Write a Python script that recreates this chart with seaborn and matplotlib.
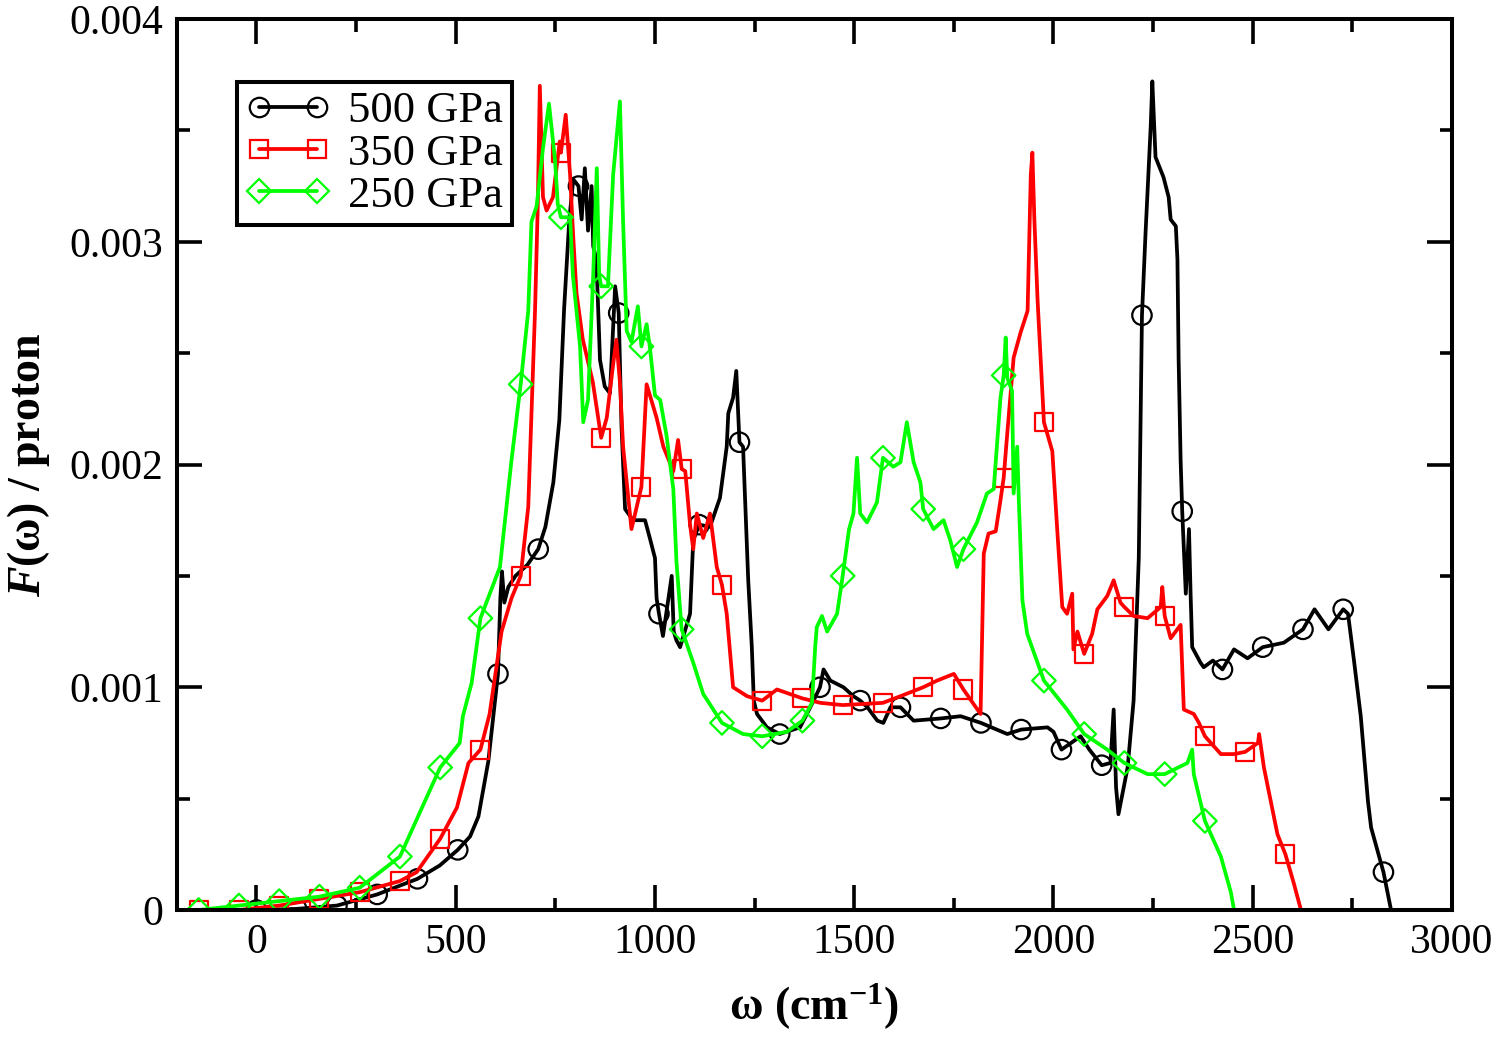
import numpy as np
import pandas as pd
import matplotlib
matplotlib.use("Agg")
import matplotlib.pyplot as plt
from matplotlib.lines import Line2D
from matplotlib.ticker import MultipleLocator, FuncFormatter
import seaborn as sns

# omega in cm^-1, F(omega) per proton in units of 1e-3

# 500 GPa
w500 = [0, 101, 202, 303, 404, 460, 505, 536, 557, 582, 606, 612, 616, 622, 632, 650, 680, 707,
        725, 745, 760, 772, 785, 795, 808, 816, 824, 832, 841, 845, 853, 862, 874, 887, 900, 909,
        916, 925, 945, 975, 987, 1000, 1004, 1010, 1020, 1042, 1047, 1054, 1063, 1088, 1096, 1111,
        1138, 1163, 1180, 1184, 1196, 1204, 1212, 1221, 1234, 1243, 1248, 1256, 1281, 1313, 1364,
        1398, 1414, 1423, 1440, 1473, 1498, 1515, 1533, 1558, 1573, 1591, 1616, 1649, 1717, 1767,
        1818, 1884, 1919, 1985, 2000, 2020, 2068, 2090, 2121, 2143, 2151, 2157, 2163, 2186, 2201,
        2214, 2222, 2231, 2244, 2248, 2256, 2276, 2289, 2294, 2307, 2311, 2314, 2319, 2323, 2332,
        2340, 2344, 2348, 2369, 2377, 2400, 2424, 2453, 2487, 2525, 2578, 2626, 2655, 2690, 2727,
        2739, 2754, 2771, 2789, 2797, 2828, 2847]
f500 = [0.0, 0.005, 0.02, 0.07, 0.14, 0.20, 0.27, 0.33, 0.42, 0.67, 1.06, 1.40, 1.52, 1.38, 1.45,
        1.50, 1.55, 1.62, 1.72, 1.92, 2.20, 2.70, 3.10, 3.28, 3.25, 3.10, 3.33, 3.05, 3.25, 2.98,
        2.92, 2.47, 2.35, 2.32, 2.80, 2.68, 2.17, 1.80, 1.75, 1.75, 1.67, 1.58, 1.40, 1.33, 1.23,
        1.50, 1.25, 1.21, 1.18, 1.33, 1.66, 1.73, 1.72, 1.85, 2.08, 2.23, 2.30, 2.42, 2.10, 2.08,
        1.48, 1.18, 0.94, 0.88, 0.82, 0.79, 0.82, 0.94, 1.00, 1.08, 1.03, 1.00, 0.96, 0.94, 0.91,
        0.85, 0.84, 0.91, 0.91, 0.85, 0.86, 0.87, 0.84, 0.79, 0.81, 0.82, 0.80, 0.72, 0.78, 0.72,
        0.65, 0.66, 0.90, 0.55, 0.43, 0.64, 0.94, 1.58, 2.67, 3.04, 3.52, 3.72, 3.38, 3.29, 3.20,
        3.10, 3.07, 2.92, 2.47, 2.02, 1.79, 1.42, 1.71, 1.42, 1.18, 1.11, 1.09, 1.12, 1.08, 1.17,
        1.13, 1.18, 1.20, 1.26, 1.35, 1.26, 1.35, 1.33, 1.12, 0.87, 0.49, 0.37, 0.17, 0.0]
m500 = [0, 101, 202, 303, 404, 505, 606, 707, 808, 909, 1010, 1111, 1212, 1313, 1414, 1515,
        1616, 1717, 1818, 1919, 2020, 2121, 2222, 2323, 2424, 2525, 2626, 2727, 2828]

# 350 GPa
w350 = [-145, -44, 57, 158, 259, 360, 402, 461, 503, 532, 562, 585, 615, 640, 663, 682, 699, 706,
        711, 719, 728, 744, 761, 764, 776, 787, 794, 803, 819, 844, 865, 879, 895, 903, 912, 920,
        941, 966, 979, 1004, 1021, 1046, 1058, 1067, 1076, 1088, 1096, 1105, 1121, 1138, 1155,
        1168, 1180, 1196, 1231, 1269, 1306, 1370, 1415, 1471, 1572, 1616, 1673, 1708, 1750, 1774,
        1817, 1825, 1837, 1855, 1867, 1875, 1884, 1900, 1917, 1935, 1943, 1947, 1952, 1960, 1976,
        1997, 2010, 2022, 2034, 2047, 2050, 2060, 2077, 2097, 2110, 2135, 2151, 2168, 2178, 2201,
        2236, 2269, 2273, 2279, 2294, 2319, 2327, 2352, 2365, 2380, 2420, 2453, 2481, 2513, 2516,
        2528, 2545, 2562, 2582, 2603, 2621]
f350 = [0.0, 0.0, 0.02, 0.05, 0.08, 0.13, 0.17, 0.32, 0.46, 0.66, 0.72, 0.88, 1.25, 1.40, 1.50,
        1.81, 2.69, 3.17, 3.70, 3.20, 3.14, 3.20, 3.45, 3.40, 3.57, 3.30, 3.05, 2.77, 2.56, 2.37,
        2.12, 2.21, 2.45, 2.56, 2.37, 2.08, 1.71, 1.90, 2.36, 2.21, 2.08, 1.97, 2.11, 1.98, 1.97,
        1.73, 1.62, 1.78, 1.67, 1.78, 1.54, 1.46, 1.33, 1.00, 0.96, 0.94, 0.99, 0.95, 0.93, 0.92,
        0.93, 0.96, 1.00, 1.03, 1.06, 0.99, 0.88, 1.60, 1.69, 1.70, 1.84, 1.94, 2.14, 2.48, 2.59,
        2.69, 3.30, 3.40, 3.10, 2.74, 2.19, 2.06, 1.69, 1.36, 1.33, 1.42, 1.17, 1.25, 1.15, 1.24,
        1.35, 1.41, 1.48, 1.38, 1.36, 1.32, 1.31, 1.36, 1.45, 1.32, 1.22, 1.28, 0.90, 0.88, 0.84,
        0.78, 0.70, 0.70, 0.71, 0.75, 0.79, 0.64, 0.49, 0.34, 0.25, 0.12, 0.0]
m350 = [-145, -44, 57, 158, 259, 360, 461, 562, 663, 764, 865, 966, 1067, 1168, 1269, 1370,
        1471, 1572, 1673, 1774, 1875, 1976, 2077, 2178, 2279, 2380, 2481, 2582]

# 250 GPa
w250 = [-145, -44, 57, 158, 259, 360, 461, 510, 518, 540, 562, 611, 640, 663, 682, 690, 703, 719,
        734, 749, 756, 764, 787, 794, 812, 820, 832, 845, 854, 860, 865, 882, 895, 912, 920, 929,
        941, 957, 966, 979, 987, 1000, 1013, 1029, 1046, 1054, 1067, 1096, 1121, 1168, 1221, 1269,
        1331, 1370, 1394, 1402, 1406, 1419, 1432, 1457, 1471, 1487, 1498, 1507, 1515, 1532, 1557,
        1572, 1598, 1616, 1632, 1649, 1666, 1673, 1699, 1724, 1741, 1758, 1774, 1808, 1833, 1850,
        1867, 1875, 1880, 1884, 1896, 1900, 1909, 1913, 1922, 1934, 1976, 2034, 2077, 2135, 2178,
        2236, 2279, 2336, 2348, 2352, 2380, 2420, 2445, 2453]
f250 = [0.0, 0.02, 0.04, 0.06, 0.10, 0.24, 0.64, 0.75, 0.87, 1.02, 1.31, 1.54, 2.02, 2.36, 2.69,
        3.09, 3.16, 3.42, 3.62, 3.37, 3.17, 3.11, 3.11, 2.85, 2.53, 2.19, 2.29, 2.85, 3.33, 2.85,
        2.80, 2.80, 3.30, 3.63, 3.09, 2.60, 2.55, 2.71, 2.53, 2.63, 2.53, 2.31, 2.29, 2.13, 1.89,
        1.56, 1.26, 1.11, 0.97, 0.84, 0.79, 0.78, 0.80, 0.85, 0.93, 1.18, 1.27, 1.32, 1.25, 1.33,
        1.50, 1.71, 1.78, 2.03, 1.78, 1.74, 1.83, 2.03, 1.99, 2.01, 2.19, 2.01, 1.92, 1.80, 1.71,
        1.75, 1.66, 1.54, 1.62, 1.74, 1.87, 1.89, 2.30, 2.40, 2.57, 2.39, 2.33, 1.87, 2.08, 1.84,
        1.39, 1.24, 1.03, 0.90, 0.79, 0.72, 0.66, 0.61, 0.61, 0.66, 0.72, 0.61, 0.40, 0.24, 0.08,
        0.0]
m250 = [-145, -44, 57, 158, 259, 360, 461, 562, 663, 764, 865, 966, 1067, 1168, 1269, 1370,
        1471, 1572, 1673, 1774, 1875, 1976, 2077, 2178, 2279, 2380]

labels = ["500 GPa", "350 GPa", "250 GPa"]
colors = ["black", "#ff0000", "#00ff00"]
markers = ["o", "s", "D"]
msizes = [14, 13, 12]

sns.set_theme(style="ticks")
plt.rcParams["font.family"] = ["Liberation Serif", "DejaVu Serif"]
plt.rcParams["mathtext.fontset"] = "custom"
plt.rcParams["mathtext.rm"] = "Liberation Serif:bold"
plt.rcParams["mathtext.it"] = "Liberation Serif:italic:bold"
plt.rcParams["mathtext.bf"] = "Liberation Serif:bold"
plt.rcParams["text.color"] = "black"
plt.rcParams["axes.labelcolor"] = "black"
plt.rcParams["xtick.color"] = "black"
plt.rcParams["ytick.color"] = "black"

fig, ax = plt.subplots(figsize=(14.98, 10.38), dpi=100)
fig.subplots_adjust(left=0.118, right=0.9693, top=0.9817, bottom=0.1233)

data = [(w500, f500, m500), (w350, f350, m350), (w250, f250, m250)]
for i, (w, f, marks) in enumerate(data):
    df = pd.DataFrame({"omega": w, "F": np.array(f) * 1e-3})
    sns.lineplot(data=df, x="omega", y="F", sort=False, estimator=None,
                 color=colors[i], lw=2.7, ax=ax, zorder=2 + i * 0.1)
    sub = df[df["omega"].isin(marks)]
    sns.scatterplot(data=sub, x="omega", y="F", marker=markers[i], s=msizes[i] ** 2,
                    facecolor="none", edgecolor=colors[i], linewidth=1.6, ax=ax,
                    zorder=2.05 + i * 0.1)

ax.set_xlim(-200, 3000)
ax.set_ylim(0, 0.004)
ax.xaxis.set_major_locator(MultipleLocator(500))
ax.xaxis.set_minor_locator(MultipleLocator(250))
ax.yaxis.set_major_locator(MultipleLocator(0.001))
ax.yaxis.set_minor_locator(MultipleLocator(0.0005))
ax.xaxis.set_major_formatter(FuncFormatter(lambda v, p: f"{v:.0f}"))
ax.yaxis.set_major_formatter(FuncFormatter(lambda v, p: "0" if abs(v) < 1e-9 else f"{v:.3f}"))

ax.tick_params(which="both", direction="in", top=True, right=True, width=2.6, color="black")
ax.tick_params(which="major", length=18, labelsize=30, pad=10)
ax.tick_params(which="minor", length=9)
for s in ax.spines.values():
    s.set_linewidth(2.9)
    s.set_color("black")

ax.set_xlabel(r"ω (cm$^{-1}$)", fontsize=33, fontweight="bold", labelpad=14)
ax.set_ylabel(r"$F$(ω) / proton", fontsize=33, fontweight="bold", labelpad=12)

handles = [Line2D([], [], color=colors[i], lw=2.7, marker=markers[i], ms=msizes[i],
                  mfc="none", mec=colors[i], mew=1.6) for i in range(3)]
leg = ax.legend(handles, labels, loc="upper left", bbox_to_anchor=(0.047, 0.929),
                numpoints=2, fontsize=32, frameon=True, fancybox=False, framealpha=1,
                edgecolor="black", handlelength=1.9, borderpad=0.2, labelspacing=0.05,
                handletextpad=0.4, borderaxespad=0)
leg.get_frame().set_linewidth(2.9)

fig.savefig("out.png", dpi=100)
